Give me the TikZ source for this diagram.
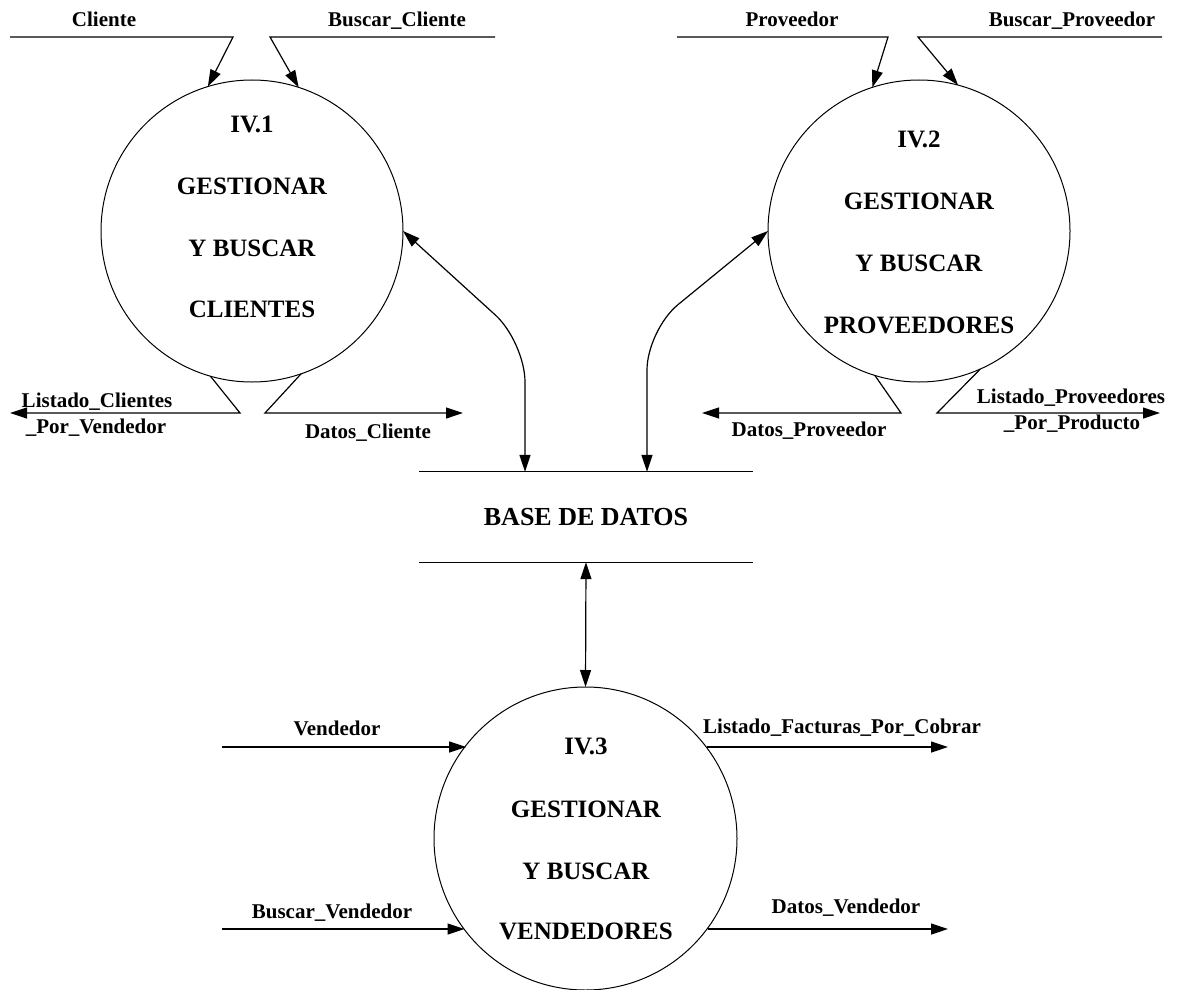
\documentclass[tikz,border=0pt]{standalone}
\usepackage{fontspec}
\setmainfont{Liberation Serif}
\usetikzlibrary{arrows.meta}
\tikzset{
  proc/.style={circle, draw, line width=1pt, inner sep=0pt, outer sep=0pt},
  flow/.style={line width=1.2pt, -{Triangle[length=17pt,width=11pt]}},
  both/.style={line width=1.2pt, {Triangle[length=17pt,width=11pt]}-{Triangle[length=17pt,width=11pt]}},
  plain/.style={line width=1.2pt},
  lbl/.style={font=\fontsize{21}{24}\selectfont\bfseries, anchor=base, inner sep=0pt},
  big/.style={font=\fontsize{25}{28}\selectfont\bfseries, anchor=base, inner sep=0pt},
}
\begin{document}
\begin{tikzpicture}[x=1pt,y=-1pt]
\useasboundingbox (0,0) rectangle (1178,990);

% processes
\node[proc, minimum size=302pt] (c1) at (252,231) {};
\node[proc, minimum size=302pt] (c2) at (919,231) {};
\node[proc, minimum size=303pt] (c3) at (585.5,838.5) {};

\node[big] (c1a) at (252,132) {IV.1};
\node[big] (c1b) at (252,194) {GESTIONAR};
\node[big] (c1c) at (252,256) {Y BUSCAR};
\node[big] (c1d) at (252,317) {CLIENTES};

\node[big] (c2a) at (919,147) {IV.2};
\node[big] (c2b) at (919,209) {GESTIONAR};
\node[big] (c2c) at (919,271) {Y BUSCAR};
\node[big] (c2d) at (919,333) {PROVEEDORES};

\node[big] (c3a) at (586,754) {IV.3};
\node[big] (c3b) at (586,817) {GESTIONAR};
\node[big] (c3c) at (586,879) {Y BUSCAR};
\node[big] (c3d) at (586,939) {VENDEDORES};

% data store
\node[minimum width=334pt, minimum height=90pt, inner sep=0pt,
      font=\fontsize{26}{29}\selectfont\bfseries] (db) at (586,517) {BASE DE DATOS};
\draw[plain] (db.north west) -- (db.north east);
\draw[plain] (db.south west) -- (db.south east);

% circle 1 inputs
\coordinate (a0) at (10,37);  \coordinate (a1) at (233,37);
\coordinate (b0) at (495,37); \coordinate (b1) at (270,37);
\draw[flow] (a0) -- (a1) -- (c1.107.5);
\draw[flow] (b0) -- (b1) -- (c1.72.5);
\node[lbl] (la) at (104,27) {Cliente};
\node[lbl] (lb) at (397,27) {Buscar\_Cliente};

% circle 2 inputs
\coordinate (p0) at (677,37);  \coordinate (p1) at (888,37);
\coordinate (q0) at (1162,37); \coordinate (q1) at (918,37);
\draw[flow] (p0) -- (p1) -- (c2.108.6);
\draw[flow] (q0) -- (q1) -- (c2.75.6);
\node[lbl] (lp) at (792,27) {Proveedor};
\node[lbl] (lq) at (1072,27) {Buscar\_Proveedor};

% circle 1 outputs
\coordinate (e1) at (240,413); \coordinate (e0) at (10,413);
\coordinate (f1) at (265,413); \coordinate (f0) at (463,413);
\draw[flow] (c1.-106) -- (e1) -- (e0);
\draw[flow] (c1.-71) -- (f1) -- (f0);
\node[lbl] (le1) at (97,407) {Listado\_Clientes};
\node[lbl] (le2) at (96,433) {\_Por\_Vendedor};
\node[lbl] (lf) at (368,438) {Datos\_Cliente};

% circle 2 outputs
\coordinate (g1) at (901,413); \coordinate (g0) at (702,413);
\coordinate (h1) at (937,413); \coordinate (h0) at (1160,413);
\draw[flow] (c2.-107.5) -- (g1) -- (g0);
\draw[flow] (c2.-66) -- (h1) -- (h0);
\node[lbl] (lg) at (809,436) {Datos\_Proveedor};
\node[lbl] (lh1) at (1071,403) {Listado\_Proveedores};
\node[lbl] (lh2) at (1072,429) {\_Por\_Producto};

% data store links
\coordinate (k1) at (525,342);
\coordinate (k2) at (647,330);
\draw[both, rounded corners=40pt] (c1.east) -- (k1) -- (k1 |- db.north);
\draw[both, rounded corners=40pt] (c2.west) -- (k2) -- (k2 |- db.north);
\draw[both] (db.south) -- (c3.north);

% circle 3 flows
\coordinate (v0) at (222,747);
\coordinate (w0) at (222,929);
\coordinate (x0) at (948,747);
\coordinate (z0) at (948,929);
\draw[flow] (v0) -- (v0 -| c3.142.8);
\draw[flow] (w0) -- (w0 -| c3.-143.3);
\draw[flow] (x0 -| c3.37.2) -- (x0);
\draw[flow] (z0 -| c3.-36.7) -- (z0);
\node[lbl] (lv) at (337,735) {Vendedor};
\node[lbl] (lw) at (332,918) {Buscar\_Vendedor};
\node[lbl] (lx) at (842,733) {Listado\_Facturas\_Por\_Cobrar};
\node[lbl] (lz) at (846,913) {Datos\_Vendedor};
\end{tikzpicture}
\end{document}
